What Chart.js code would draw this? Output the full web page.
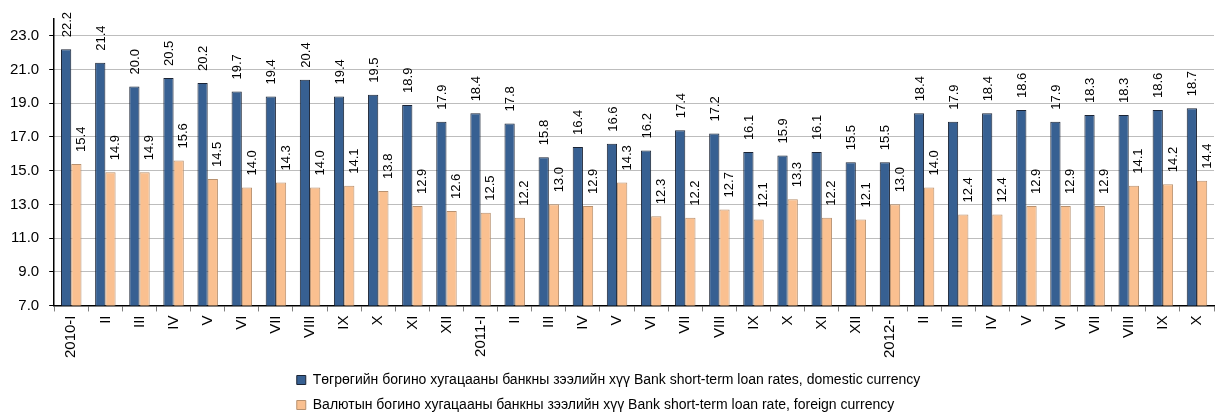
<!DOCTYPE html>
<html>
<head>
<meta charset="utf-8">
<script src="https://cdn.jsdelivr.net/npm/chart.js@4.4.0/dist/chart.umd.min.js"></script>
<style>
	body { margin: 0; background: #fff; overflow: hidden; }
	#wrap { width: 1219px; height: 414px; overflow: hidden; }
	canvas { display: block; }
</style>
</head>
<body>
<div id="wrap"><canvas id="loanChart" width="1219" height="422"></canvas></div>
<script>
// ===== DATA =====
const categories = [
	'2010-I', 'II', 'III', 'IV', 'V', 'VI', 'VII', 'VIII', 'IX', 'X', 'XI', 'XII',
	'2011-I', 'II', 'III', 'IV', 'V', 'VI', 'VII', 'VIII', 'IX', 'X', 'XI', 'XII',
	'2012-I', 'II', 'III', 'IV', 'V', 'VI', 'VII', 'VIII', 'IX', 'X'
];
const domesticRates = [
	22.2, 21.4, 20.0, 20.5, 20.2, 19.7, 19.4, 20.4, 19.4, 19.5, 18.9, 17.9,
	18.4, 17.8, 15.8, 16.4, 16.6, 16.2, 17.4, 17.2, 16.1, 15.9, 16.1, 15.5,
	15.5, 18.4, 17.9, 18.4, 18.6, 17.9, 18.3, 18.3, 18.6, 18.7
];
const foreignRates = [
	15.4, 14.9, 14.9, 15.6, 14.5, 14.0, 14.3, 14.0, 14.1, 13.8, 12.9, 12.6,
	12.5, 12.2, 13.0, 12.9, 14.3, 12.3, 12.2, 12.7, 12.1, 13.3, 12.2, 12.1,
	13.0, 14.0, 12.4, 12.4, 12.9, 12.9, 12.9, 14.1, 14.2, 14.4
];
const seriesNames = [
	'Төгрөгийн богино хугацааны банкны зээлийн хүү Bank short-term loan rates, domestic currency',
	'Валютын богино хугацааны банкны зээлийн хүү Bank short-term loan rate, foreign currency'
];
const yTicks = [7, 9, 11, 13, 15, 17, 19, 21, 23];

const FONT = 'Liberation Sans, Arial, sans-serif';

// ===== VALUE LABELS (rotated, above bars) =====
const valueLabels = {
	id: 'valueLabels',
	afterDatasetsDraw(chart) {
		const ctx = chart.ctx;
		ctx.save();
		ctx.font = '13px ' + FONT;
		ctx.fillStyle = '#000';
		ctx.textAlign = 'left';
		ctx.textBaseline = 'middle';
		chart.data.datasets.forEach((ds, i) => {
			const meta = chart.getDatasetMeta(i);
			const shift = i === 1 ? 5 : 1;
			meta.data.forEach((bar, j) => {
				ctx.save();
				ctx.translate(bar.x + shift, bar.y - 12);
				ctx.rotate(-Math.PI / 2);
				ctx.fillText(ds.data[j].toFixed(1), 0, 0);
				ctx.restore();
			});
		});
		ctx.restore();
	}
};

// legend rows start at the same x, like the original
const legendRows = {
	id: 'legendRows',
	afterLayout(chart) {
		const lw = chart.legend && chart.legend.lineWidths;
		if (lw && lw.length > 1) {
			const m = Math.max(...lw);
			for (let i = 0; i < lw.length; i++) lw[i] = m;
		}
	}
};

// ===== CHART =====
const ctx = document.getElementById('loanChart').getContext('2d');

new Chart(ctx, {
	type: 'bar',
	data: {
		labels: categories,
		datasets: [{
			label: seriesNames[0],
			data: domesticRates,
			backgroundColor: '#376092',
			borderColor: '#1b2435',
			borderWidth: 1
		}, {
			label: seriesNames[1],
			data: foreignRates,
			backgroundColor: '#fac090',
			borderColor: '#b8916f',
			borderWidth: 1
		}]
	},
	options: {
		responsive: false,
		animation: false,
		layout: { padding: { top: -3, right: 2, left: 0, bottom: 0 } },
		datasets: {
			bar: { barPercentage: 1, categoryPercentage: 0.6 }
		},
		scales: {
			x: {
				offset: true,
				grid: {
					offset: true,
					drawOnChartArea: false,
					color: '#808080',
					tickLength: 6
				},
				border: { color: '#000', width: 1.5 },
				ticks: {
					font: { size: 15, family: FONT },
					color: '#000',
					minRotation: 90,
					maxRotation: 90,
					autoSkip: false,
					padding: 4
				}
			},
			y: {
				min: 7,
				max: 24,
				afterBuildTicks: axis => {
					axis.ticks = yTicks.map(v => ({ value: v }));
				},
				grid: {
					color: '#7a7a7a',
					lineWidth: 1,
					tickLength: 5,
					tickColor: '#000'
				},
				border: { color: '#000', width: 1.5, dash: [1, 1] },
				ticks: {
					font: { size: 15, family: FONT },
					color: '#000',
					padding: 10,
					callback: v => v.toFixed(1)
				}
			}
		},
		plugins: {
			legend: {
				position: 'bottom',
				labels: {
					font: { size: 14, family: FONT },
					color: '#000',
					boxWidth: 9,
					boxHeight: 9,
					padding: 11
				}
			},
			tooltip: { enabled: false }
		}
	},
	plugins: [valueLabels, legendRows]
});
</script>
</body>
</html>
